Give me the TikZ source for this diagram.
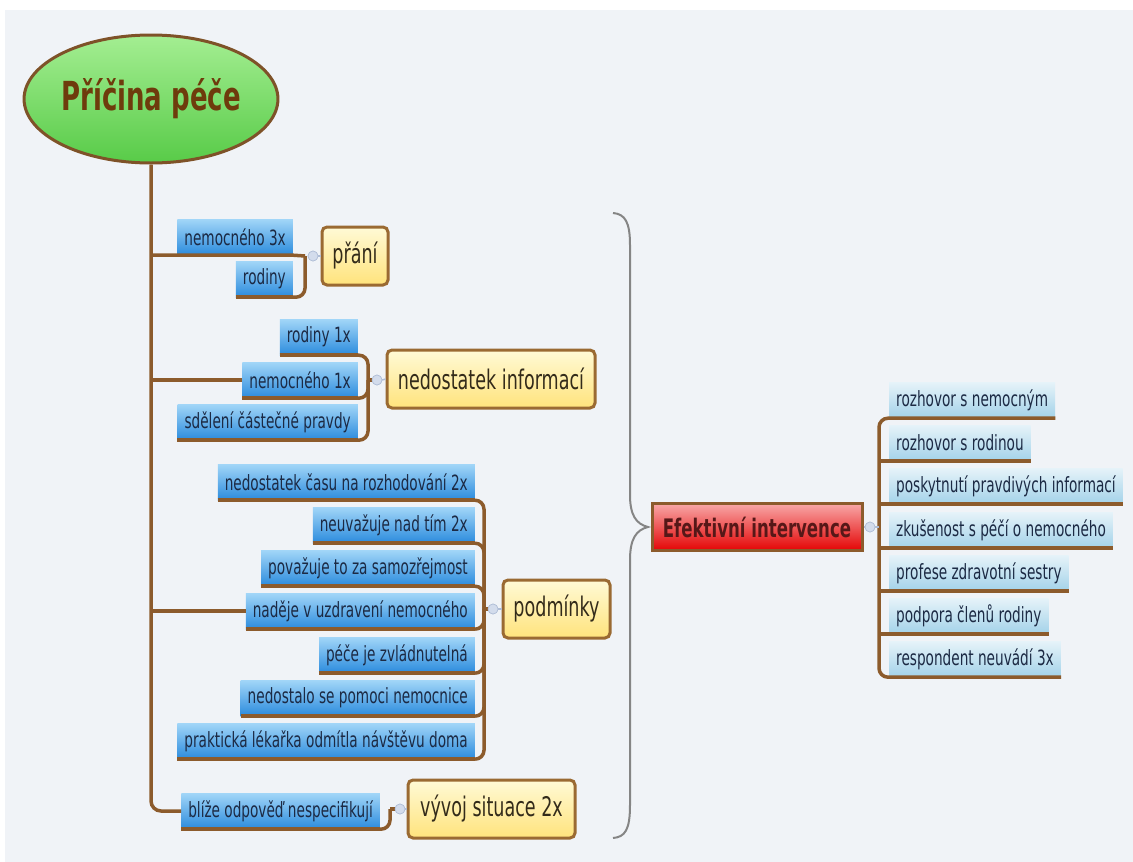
\documentclass[tikz,border=0pt]{standalone}
\usepackage{fontspec}
\setmainfont{DejaVu Sans}[FakeStretch=0.65]
\usetikzlibrary{shapes.geometric}
\definecolor{bg}{HTML}{F0F3F7}
\definecolor{brn}{HTML}{8C5B2C}
\definecolor{lbT}{HTML}{A2D6F8}
\definecolor{lbB}{HTML}{2B8BDD}
\definecolor{rbT}{HTML}{E6F3F9}
\definecolor{rbB}{HTML}{A3D2E9}
\definecolor{ybT}{HTML}{FFFAD6}
\definecolor{ybB}{HTML}{FFE37C}
\definecolor{ybd}{HTML}{9A6A32}
\definecolor{rdT}{HTML}{F8A8A8}
\definecolor{rdB}{HTML}{E40404}
\definecolor{gnT}{HTML}{A4EE92}
\definecolor{gnB}{HTML}{58CB48}
\definecolor{txt}{HTML}{1C2A44}
\definecolor{roottxt}{HTML}{6E3B0C}
\definecolor{redtxt}{HTML}{561818}
\definecolor{ytxt}{HTML}{332B1A}
\definecolor{knob}{HTML}{D3DCEC}
\definecolor{knobd}{HTML}{AFBDD6}
\definecolor{bracec}{HTML}{858585}
\tikzset{
  lbox/.style={rectangle, inner xsep=7pt, inner ysep=0pt, minimum height=36, top color=lbT, bottom color=lbB, text=txt, font=\fontsize{21}{23}\selectfont, anchor=east},
  rbox/.style={rectangle, inner xsep=7pt, inner ysep=0pt, minimum height=36, top color=rbT, bottom color=rbB, text=txt, font=\fontsize{21}{23}\selectfont, anchor=west},
  ybox/.style={rectangle, rounded corners=5, draw=ybd, line width=3, top color=ybT, bottom color=ybB, text=ytxt, font=\fontsize{27}{30}\selectfont, inner sep=0pt},
  rdbox/.style={rectangle, draw=brn, line width=3, top color=rdT, bottom color=rdB, text=redtxt, font=\bfseries\fontsize{25.5}{28}\selectfont, inner sep=0pt},
  rootnode/.style={ellipse, draw=brn!90!black, line width=3, top color=gnT, bottom color=gnB, text=roottxt, font=\bfseries\fontsize{40}{44}\selectfont, inner sep=0pt},
  knobnode/.style={circle, fill=knob, draw=knobd, line width=0.6, minimum size=10, inner sep=0pt},
  br/.style={draw=brn, line width=3.5},
  thin link/.style={draw=knobd, line width=1.5},
}
\begin{document}
\begin{tikzpicture}[x=1pt,y=-1pt]
\useasboundingbox (0,0) rectangle (1133,862);
\fill[white] (0,0) rectangle (1133,862);
\fill[bg] (5,10) rectangle (1133,862);

% root
\node[rootnode, minimum width=244, minimum height=128] (root) at (151,99) {Příčina péče};

% group P
\node[ybox, minimum width=66, minimum height=58] (p) at (355,256) {přání};
\node[lbox] (a1) at (293,237) {nemocného 3x};
\node[lbox] (a2) at (293,279) {rodiny};
\node[knobnode] (cp) at (313,256) {};
\coordinate (jp) at (305,256);

% group N
\node[ybox, minimum width=208, minimum height=58] (n) at (491,379) {nedostatek informací};
\node[lbox] (b1) at (358,337) {rodiny 1x};
\node[lbox] (b2) at (358,380) {nemocného 1x};
\node[lbox] (b3) at (358,422) {sdělení částečné pravdy};
\node[knobnode] (cn) at (377,380) {};
\coordinate (jn) at (368,380);

% group M
\node[ybox, minimum width=107, minimum height=58] (m) at (556.5,609) {podmínky};
\node[lbox] (c1) at (475,482) {nedostatek času na rozhodování 2x};
\node[lbox] (c2) at (475,525) {neuvažuje nad tím 2x};
\node[lbox] (c3) at (475,568) {považuje to za samozřejmost};
\node[lbox] (c4) at (475,611) {naděje v uzdravení nemocného};
\node[lbox] (c5) at (475,655) {péče je zvládnutelná};
\node[lbox] (c6) at (475,698) {nedostalo se pomoci nemocnice};
\node[lbox] (c7) at (475,741) {praktická lékařka odmítla návštěvu doma};
\node[knobnode] (cm) at (493,609) {};
\coordinate (jm) at (484,609);

% group V
\node[ybox, minimum width=167, minimum height=58] (v) at (491.5,809) {vývoj situace 2x};
\node[lbox] (d1) at (380,811) {blíže odpověď nespecifikují};
\node[knobnode] (cv) at (400,809) {};
\coordinate (jv) at (390,809);

% right side
\node[rdbox, minimum width=210, minimum height=47] (e) at (757,527) {Efektivní intervence};
\node[knobnode] (ce) at (870,527) {};
\coordinate (je) at (879,527);
\node[rbox] (r1) at (889,400) {rozhovor s nemocným};
\node[rbox] (r2) at (889,443) {rozhovor s rodinou};
\node[rbox] (r3) at (889,486) {poskytnutí pravdivých informací};
\node[rbox] (r4) at (889,530) {zkušenost s péčí o nemocného};
\node[rbox] (r5) at (889,573) {profese zdravotní sestry};
\node[rbox] (r6) at (889,616) {podpora členů rodiny};
\node[rbox] (r7) at (889,659) {respondent neuvádí 3x};

% trunk and branches
\draw[br, rounded corners=10] (root.south) |- (d1.west);
\draw[br] (root.south |- a1.south) -- (a1.south east) -- (jp);
\draw[br] (root.south |- b2.west) -- (b2.west);
\draw[br] (root.south |- c4.west) -- (c4.west);

% underlines
\foreach \b in {a2,b1,b2,b3,c1,c2,c3,c4,c5,c6,c7,d1}
  \draw[br] (\b.south west) -- (\b.south east);

% brackets
\draw[br, rounded corners=9] (a2.south east) -| (jp);
\foreach \b in {b1,b2,b3} \draw[br, rounded corners=9] (\b.south east) -| (jn);
\foreach \b in {c1,c2,c3,c4,c5,c6,c7} \draw[br, rounded corners=9] (\b.south east) -| (jm);
\draw[br, rounded corners=9] (d1.south east) -| (jv);
\draw[br] (jn) -- (cn.west);
\draw[br] (jm) -- (cm.west);
\draw[br] (jv) -- (cv.west);

\draw[thin link] (cp.east) -- (p.west);
\draw[thin link] (cn.east) -- (n.west);
\draw[thin link] (cm.east) -- (m.west);
\draw[thin link] (cv.east) -- (v.west);
\node[knobnode] at (cp) {};
\node[knobnode] at (cn) {};
\node[knobnode] at (cm) {};
\node[knobnode] at (cv) {};

% right bracket
\draw[br, rounded corners=9] (r1.south east) -- (je |- r1.south) -- (je |- r7.south) -- (r7.south east);
\foreach \b in {r2,r3,r4,r5,r6} \draw[br] (je |- \b.south) -- (\b.south east);
\draw[thin link] (e.east) -- (je);
\node[knobnode] at (ce) {};

% brace
\coordinate (bt) at (613,213);
\coordinate (bb) at (613,838);
\coordinate (btip) at (648,527);
\draw[bracec, line width=2] (bt) .. controls (625,214) and (630,222) .. (630,245) -- (630,495)
  .. controls (630,515) and (636,524) .. (btip)
  .. controls (636,530) and (630,539) .. (630,560) -- (630,805)
  .. controls (630,830) and (625,837) .. (bb);
\end{tikzpicture}
\end{document}
